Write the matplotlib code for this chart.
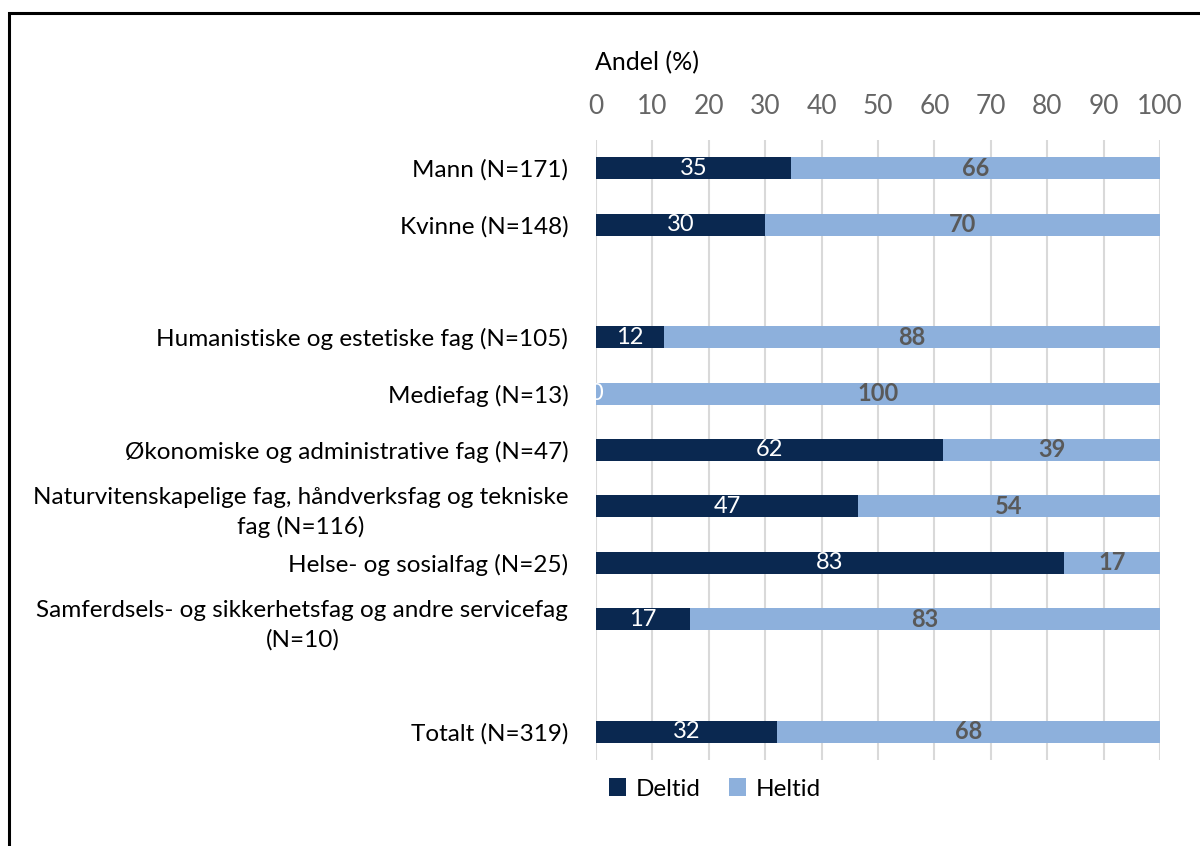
import numpy as np
import matplotlib.pyplot as plt
from matplotlib.patches import Rectangle

plt.rcParams['font.family'] = ['Lato', 'DejaVu Sans']

# Kategorier (tomme strenger gir mellomrom mellom gruppene)
kategorier = [
    'Mann (N=171)',
    'Kvinne (N=148)',
    '',
    'Humanistiske og estetiske fag (N=105)',
    'Mediefag (N=13)',
    'Økonomiske og administrative fag (N=47)',
    'Naturvitenskapelige fag, håndverksfag og tekniske\nfag (N=116)',
    'Helse- og sosialfag (N=25)',
    'Samferdsels- og sikkerhetsfag og andre servicefag\n(N=10)',
    '',
    'Totalt (N=319)',
]
deltid = [34.5, 30.0, np.nan, 12.0, 0.0, 61.5, 46.5, 83.0, 16.7, np.nan, 32.0]
heltid = [65.5, 70.0, np.nan, 88.0, 100.0, 38.5, 53.5, 17.0, 83.3, np.nan, 68.0]
xticks = [0, 10, 20, 30, 40, 50, 60, 70, 80, 90, 100]

farge_deltid = '#0a2850'
farge_heltid = '#8db0dc'

fig = plt.figure(figsize=(12, 8.46), dpi=100)
ax = fig.add_axes([0.4967, 0.1017, 0.47, 0.7328])

y = np.arange(len(kategorier))
d = np.nan_to_num(deltid)
h = np.nan_to_num(heltid)
ax.barh(y, d, height=0.39, color=farge_deltid, label='Deltid', zorder=2)
ax.barh(y, h, left=d, height=0.39, color=farge_heltid, label='Heltid', zorder=2)

# Dataetiketter
for i in range(len(kategorier)):
    if np.isnan(deltid[i]):
        continue
    ax.text(d[i] / 2, y[i], f'{int(np.floor(d[i] + 0.5))}', ha='center', va='center',
            color='white', fontsize=17, zorder=3)
    ax.text(d[i] + h[i] / 2, y[i], f'{int(np.floor(h[i] + 0.5))}', ha='center', va='center',
            color='#595959', fontsize=17, fontweight='bold', zorder=3)

ax.set_xlim(0, 100)
ax.set_ylim(len(kategorier) - 0.5, -0.5)
ax.set_xticks(xticks)
ax.xaxis.tick_top()
ax.tick_params(axis='x', length=0, labelsize=19, labelcolor='#666666', pad=15)
ax.set_yticks(y)
ax.set_yticklabels(kategorier, fontsize=17.5, multialignment='center', linespacing=1.45)
ax.tick_params(axis='y', length=0, pad=20)
ax.grid(axis='x', color='#d9d9d9', linewidth=1.5, zorder=0)
for s in ax.spines.values():
    s.set_visible(False)

fig.text(0.4958, 0.926, 'Andel (%)', fontsize=18, ha='left', va='center')

ax.legend(loc='center', ncol=2, frameon=False, fontsize=17.5, handlelength=0.7,
          handleheight=0.7, columnspacing=1.2, handletextpad=0.4,
          bbox_to_anchor=(715 / 1200, 1 - 789 / 846), bbox_transform=fig.transFigure)

# Ramme rundt figuren
fig.patches.append(Rectangle((9 / 1200, -0.1), 1.2, 1 - 13 / 846 + 0.1, transform=fig.transFigure,
                             fill=False, edgecolor='black', linewidth=2.2))

plt.savefig('out.png')
